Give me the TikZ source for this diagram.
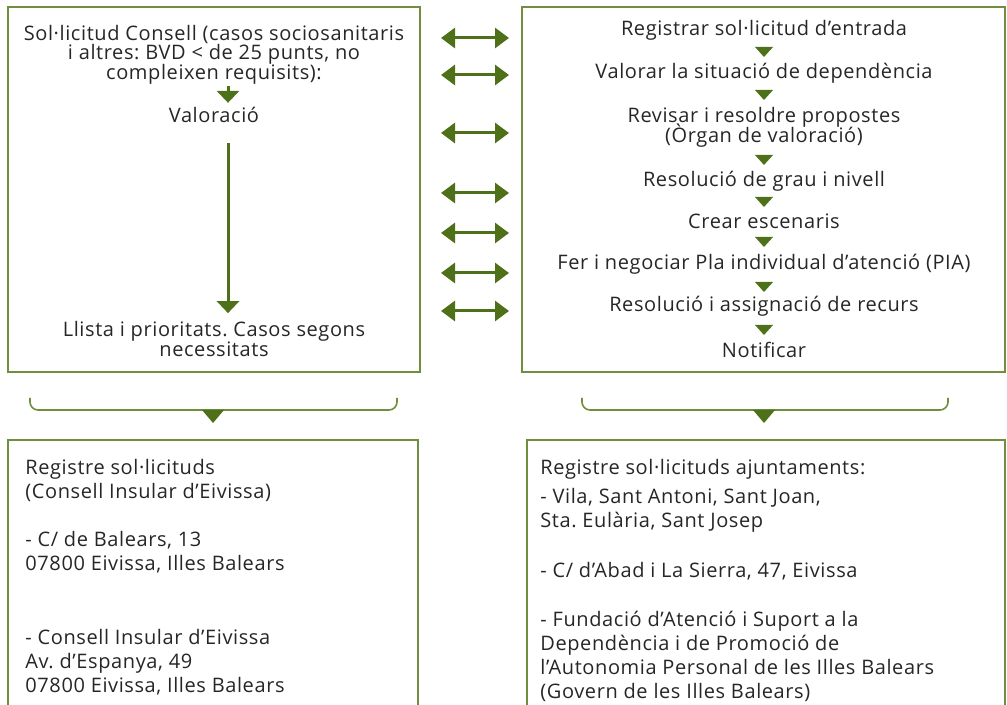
\documentclass[tikz,border=0pt]{standalone}
\usepackage{fontspec}
\setmainfont[LetterSpace=3]{Open Sans}
\usetikzlibrary{arrows.meta,positioning}
\definecolor{verd}{RGB}{78,112,24}
\definecolor{vora}{RGB}{112,142,62}
\frenchspacing
\setlength{\lineskiplimit}{-10pt}

\tikzset{
  caixa/.style={draw=vora, line width=1pt},
  txt/.style={font=\fontsize{10}{9.75}\selectfont, align=center, inner sep=0pt, text=black!85},
  adr/.style={font=\fontsize{10}{12}\selectfont, align=left, anchor=north west, inner sep=0pt, text=black!85},
  fletxa/.style={verd, line width=1.5pt, -{Triangle[length=6pt,width=11pt]}},
  doble/.style={verd, line width=1.5pt, {Triangle[length=7pt,width=10pt]}-{Triangle[length=7pt,width=10pt]}},
  clau/.style={vora, line width=0.8pt, rounded corners=4pt},
  tri/.pic={\fill[verd] (-4.5pt,2.5pt) -- (4.5pt,2.5pt) -- (0pt,-2.5pt) -- cycle;},
  trigran/.pic={\fill[verd] (-5.5pt,3pt) -- (5.5pt,3pt) -- (0pt,-3.5pt) -- cycle;}
}

\begin{document}
\begin{tikzpicture}[x=0.5pt,y=-0.5pt]
    \useasboundingbox (0,0) rectangle (1007,705);

    % Caixes superiors
    \node[caixa, minimum width=206pt, minimum height=182.5pt] (esq) at (214,189.5) {};
    \node[caixa, minimum width=241.5pt, minimum height=182.5pt] (dre) at (763.5,189.5) {};

    % Caixa esquerra
    \node[txt] (sol) at (214,54.5) {Sol·licitud Consell (casos sociosanitaris\\i altres: BVD < de 25 punts, no\\compleixen requisits):};
    \node[txt] (val) at (214,115) {Valoració};
    \node[txt] (lst) at (214,339) {Llista i prioritats. Casos segons\\necessitats};

    \draw[fletxa] ([xshift=7pt,yshift=-1pt]sol.south) -- ([xshift=7pt,yshift=2pt]val.north);
    \draw[fletxa, shorten <=10pt] ([xshift=7pt]val.south) -- ([xshift=7pt,yshift=4pt]lst.north);

    % Caixa dreta
    \node[txt] (r1) at (764,30) {Registrar sol·licitud d’entrada};
    \node[txt] (r2) at (764,73) {Valorar la situació de dependència};
    \node[txt] (r3) at (764,127.5) {Revisar i resoldre propostes\\(Òrgan de valoració)};
    \node[txt] (r4) at (764,181) {Resolució de grau i nivell};
    \node[txt] (r5) at (764,221) {Crear escenaris};
    \node[txt] (r6) at (764,264) {Fer i negociar Pla individual d’atenció (PIA)};
    \node[txt] (r7) at (764,306) {Resolució i assignació de recurs};
    \node[txt] (r8) at (764,350) {Notificar};

    \foreach \y in {52,95,160,202,242,287,330}
        \pic at (764,\y) {tri};

    % Fletxes dobles
    \foreach \y in {38,75,133,193,233,273,311}
        \draw[doble, shorten <=10pt, shorten >=6pt] (esq.east |- 0,\y) -- (dre.west |- 0,\y);

    % Claus
    \draw[clau] (30,398) |- (397,410) -- (397,398);
    \draw[clau] (582,398) |- (948,410) -- (948,398);
    \pic at (213,416) {trigran};
    \pic at (764,416) {trigran};

    % Caixes inferiors
    \draw[caixa] (8,706) |- (418,440) -- (418,706);
    \draw[caixa] (527,706) |- (1005,440) -- (1005,706);

    \node[adr] (lb1) at (25,459) {Registre sol·licituds\\(Consell Insular d’Eivissa)};
    \node[adr] (lb2) at (25,531) {- C/ de Balears, 13\\07800 Eivissa, Illes Balears};
    \node[adr] (lb3) at (25,629) {- Consell Insular d’Eivissa\\Av. d’Espanya, 49\\07800 Eivissa, Illes Balears};

    \node[adr] (rb1) at (540,459) {Registre sol·licituds ajuntaments:};
    \node[adr] (rb2) at (540,488) {- Vila, Sant Antoni, Sant Joan,\\Sta. Eulària, Sant Josep};
    \node[adr] (rb3) at (540,562) {- C/ d’Abad i La Sierra, 47, Eivissa};
    \node[adr] (rb4) at (540,611) {- Fundació d’Atenció i Suport a la\\Dependència i de Promoció de\\l’Autonomia Personal de les Illes Balears\\(Govern de les Illes Balears)};

\end{tikzpicture}
\end{document}
